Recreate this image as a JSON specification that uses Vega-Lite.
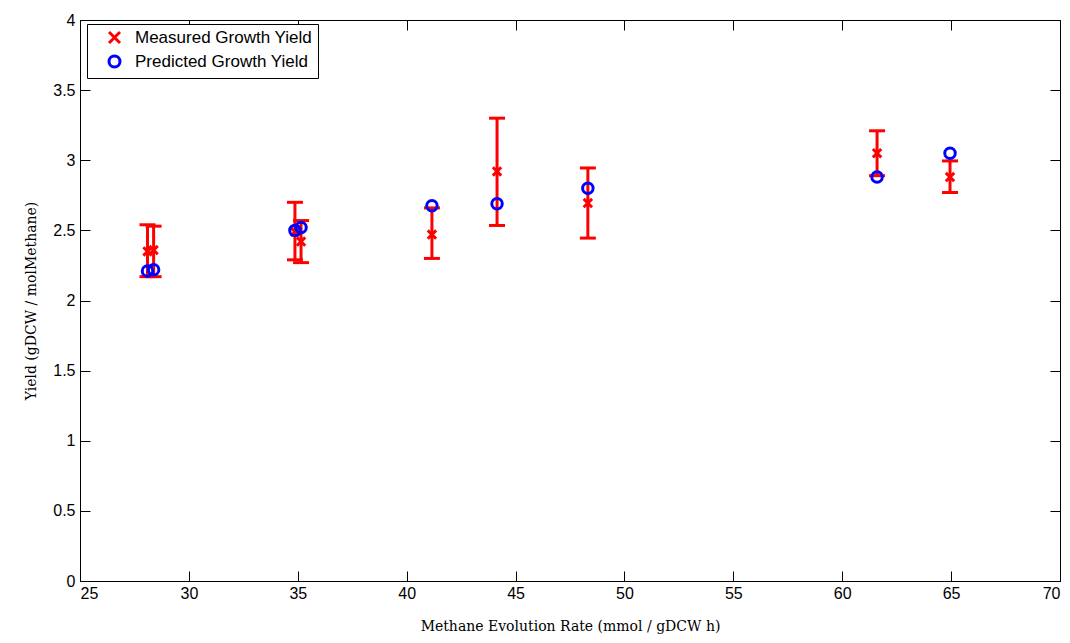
{
  "$schema": "https://vega.github.io/schema/vega-lite/v6.json",
  "width": 980,
  "height": 561,
  "autosize": {"type": "none"},
  "padding": {"left": 80, "top": 20, "right": 10, "bottom": 62},
  "background": "white",
  "view": {"stroke": "black", "strokeWidth": 1},
  "config": {
    "axis": {
      "domainColor": "black",
      "tickColor": "black",
      "tickSize": -10,
      "labelColor": "black",
      "labelFont": "Liberation Sans",
      "labelFontSize": 16,
      "titleFont": "DejaVu Serif",
      "titleFontWeight": "normal",
      "titleFontSize": 14,
      "titleColor": "black",
      "grid": false
    }
  },
  "data": {
    "values": [
      {"x": 28.1, "measured": 2.35, "lo": 2.17, "hi": 2.54, "predicted": 2.21},
      {"x": 28.38, "measured": 2.36, "lo": 2.17, "hi": 2.53, "predicted": 2.22},
      {"x": 34.87, "measured": 2.49, "lo": 2.29, "hi": 2.70, "predicted": 2.50},
      {"x": 35.15, "measured": 2.42, "lo": 2.27, "hi": 2.57, "predicted": 2.52},
      {"x": 41.16, "measured": 2.47, "lo": 2.30, "hi": 2.66, "predicted": 2.675},
      {"x": 44.15, "measured": 2.92, "lo": 2.535, "hi": 3.30, "predicted": 2.69},
      {"x": 48.32, "measured": 2.695, "lo": 2.445, "hi": 2.945, "predicted": 2.80},
      {"x": 61.6, "measured": 3.05, "lo": 2.89, "hi": 3.21, "predicted": 2.88},
      {"x": 64.95, "measured": 2.88, "lo": 2.77, "hi": 2.995, "predicted": 3.05}
    ]
  },
  "layer": [
    {
      "mark": {"type": "rule", "color": "#ff0000", "strokeWidth": 3},
      "encoding": {
        "x": {"field": "x", "type": "quantitative", "scale": {"domain": [25, 70], "nice": false, "zero": false},
          "axis": {"orient": "bottom", "values": [25, 30, 35, 40, 45, 50, 55, 60, 65, 70], "labelPadding": 14,
            "title": "Methane Evolution Rate (mmol / gDCW h)", "titlePadding": 18}},
        "y": {"field": "lo", "type": "quantitative", "scale": {"domain": [0, 4], "nice": false},
          "axis": {"orient": "left", "values": [0, 0.5, 1, 1.5, 2, 2.5, 3, 3.5, 4], "format": "~g", "labelPadding": 15,
            "title": "Yield (gDCW / molMethane)", "titlePadding": 14}},
        "y2": {"field": "hi"}
      }
    },
    {
      "mark": {"type": "tick", "orient": "horizontal", "color": "#ff0000", "size": 16, "thickness": 3, "opacity": 1},
      "encoding": {
        "x": {"field": "x", "type": "quantitative",
          "axis": {"orient": "top", "values": [25, 30, 35, 40, 45, 50, 55, 60, 65, 70], "labels": false, "title": null, "domain": false}},
        "y": {"field": "hi", "type": "quantitative",
          "axis": {"orient": "right", "values": [0, 0.5, 1, 1.5, 2, 2.5, 3, 3.5, 4], "labels": false, "title": null, "domain": false}}
      }
    },
    {
      "mark": {"type": "tick", "orient": "horizontal", "color": "#ff0000", "size": 16, "thickness": 3, "opacity": 1},
      "encoding": {
        "x": {"field": "x", "type": "quantitative", "axis": null},
        "y": {"field": "lo", "type": "quantitative", "axis": null}
      }
    },
    {
      "mark": {"type": "point", "filled": false, "strokeWidth": 3, "size": 70, "opacity": 1},
      "encoding": {
        "x": {"field": "x", "type": "quantitative", "axis": null},
        "y": {"field": "measured", "type": "quantitative", "axis": null},
        "color": {"datum": "Measured Growth Yield", "type": "nominal",
          "scale": {"domain": ["Measured Growth Yield", "Predicted Growth Yield"], "range": ["#ff0000", "#0000ff"]},
          "legend": {
            "title": null,
            "orient": "none",
            "legendX": 7,
            "legendY": 4,
            "strokeColor": "black",
            "fillColor": "white",
            "padding": 5,
            "labelFont": "Liberation Sans",
            "labelFontSize": 17,
            "labelColor": "black",
            "labelLimit": 400,
            "symbolSize": 120,
            "symbolStrokeWidth": 3,
            "symbolOffset": 14,
            "labelOffset": 12,
            "rowPadding": 1,
            "encode": {
              "symbols": {
                "strokeWidth": {"value": {"expr": "datum.value === 'Measured Growth Yield' ? 1 : 3"}},
                "size": {"value": {"expr": "datum.value === 'Measured Growth Yield' ? 90 : 120"}}
              }
            }
          }},
        "shape": {"datum": "Measured Growth Yield", "type": "nominal",
          "scale": {"domain": ["Measured Growth Yield", "Predicted Growth Yield"], "range": ["M-1,-1L1,1M-1,1L1,-1", "circle"]}}
      }
    },
    {
      "mark": {"type": "point", "filled": false, "strokeWidth": 3, "size": 110, "opacity": 1},
      "encoding": {
        "x": {"field": "x", "type": "quantitative", "axis": null},
        "y": {"field": "predicted", "type": "quantitative", "axis": null},
        "color": {"datum": "Predicted Growth Yield", "type": "nominal"},
        "shape": {"datum": "Predicted Growth Yield", "type": "nominal"}
      }
    }
  ],
  "resolve": {"axis": {"x": "independent", "y": "independent"}}
}
